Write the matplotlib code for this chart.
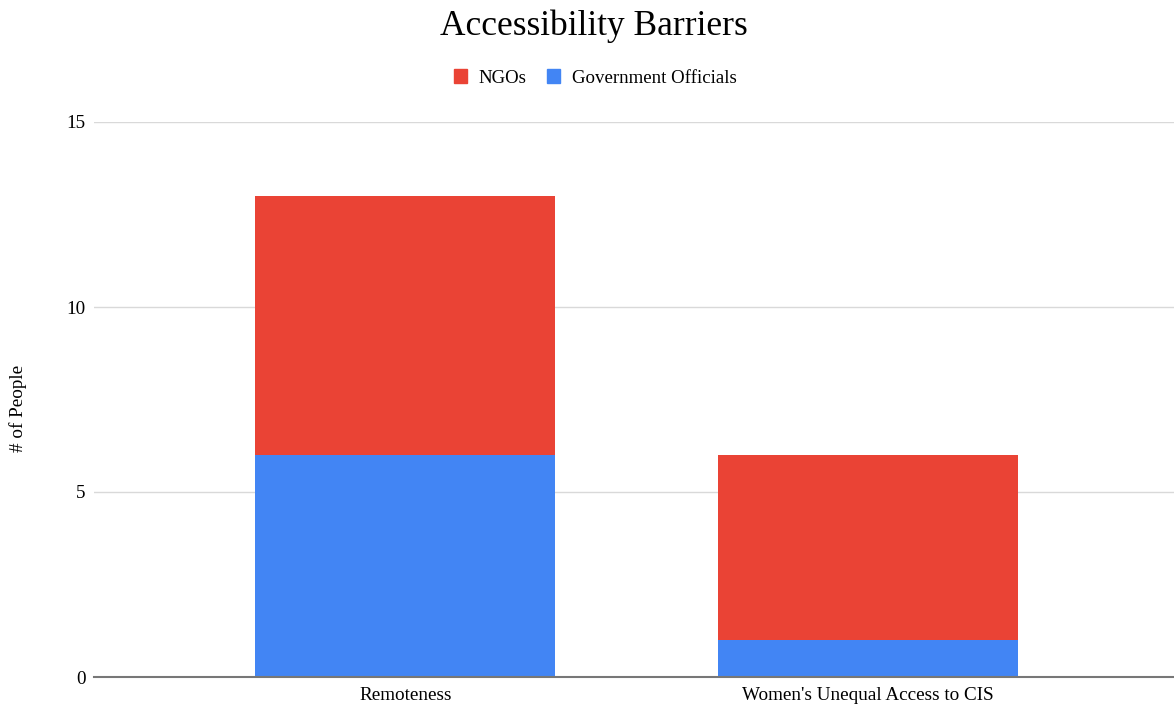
import matplotlib
matplotlib.use("Agg")
import matplotlib.pyplot as plt
from matplotlib.patches import Patch
import numpy as np

categories = ["Remoteness", "Women's Unequal Access to CIS"]
gov_officials = [6, 1]
ngos = [7, 5]
y_ticks = [0, 5, 10, 15]

RED = "#EA4335"
BLUE = "#4285F4"

plt.rcParams['font.family'] = ['Liberation Serif', 'DejaVu Serif']

fig = plt.figure(figsize=(11.74, 7.07), dpi=100)
ax = fig.add_axes([94/1174, 30/707, 1 - 94/1174, (677-122)/707])

x = np.arange(len(categories))
w = 0.649
ax.bar(x, gov_officials, width=w, color=BLUE, zorder=3)
ax.bar(x, ngos, width=w, bottom=gov_officials, color=RED, zorder=3)

ax.set_xlim(-0.673, 1.662)
ax.set_ylim(0, 15)
ax.set_yticks(y_ticks)
ax.set_xticks(x)
ax.set_xticklabels(categories, fontsize=13.8)
ax.tick_params(axis='y', labelsize=13.8, length=0, pad=6)
ax.tick_params(axis='x', length=0, pad=7)
ax.grid(axis='y', color='#d9d9d9', linewidth=1, zorder=0)
for s in ['top', 'right', 'left']:
    ax.spines[s].set_visible(False)
ax.spines['bottom'].set_color('#777777')
ax.spines['bottom'].set_linewidth(1.5)
ax.spines['bottom'].set_zorder(4)

fig.text(18/1174, 1 - 408/707, "# of People", rotation=90, ha='center', va='center', fontsize=13.8)
fig.text(594/1174, 1 - 26/707, "Accessibility Barriers", ha='center', va='center', fontsize=25.5)

handles = [Patch(color=RED, label="NGOs"), Patch(color=BLUE, label="Government Officials")]
fig.legend(handles=handles, loc='center', bbox_to_anchor=(595/1174, 1 - 78/707), ncol=2,
           frameon=False, fontsize=13.6, handlelength=0.7, handleheight=0.7,
           handletextpad=0.6, columnspacing=1.1)

fig.savefig("out.png", dpi=100)
